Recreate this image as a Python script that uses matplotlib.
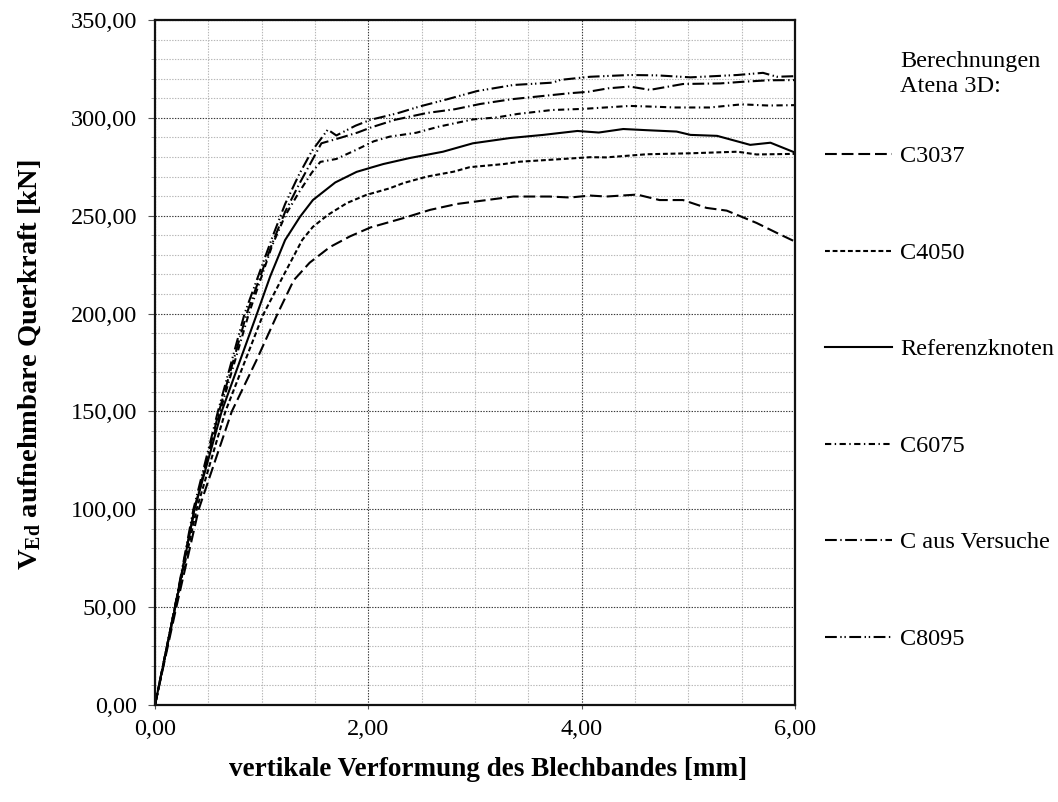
import matplotlib
matplotlib.use("Agg")
import matplotlib.pyplot as plt
from matplotlib.lines import Line2D
from matplotlib.ticker import FixedLocator, MultipleLocator, FuncFormatter

plt.rcParams["font.family"] = ["Liberation Serif", "DejaVu Serif"]
plt.rcParams["mathtext.fontset"] = "custom"
plt.rcParams["mathtext.rm"] = "Liberation Serif"
plt.rcParams["mathtext.bf"] = "Liberation Serif:bold"
plt.rcParams["lines.scale_dashes"] = False

# Load-deflection curves (deflection in mm, shear force in kN)
x_c3037 = [0, 0.20, 0.41, 0.72, 0.95, 1.15, 1.30, 1.45, 1.64, 1.83, 2.02, 2.33, 2.58, 2.83, 3.11,
           3.36, 3.70, 3.89, 4.08, 4.23, 4.52, 4.73, 4.95, 5.17, 5.36, 5.64, 5.83, 6.00]
y_c3037 = [0, 50, 100, 150, 176, 200, 217, 226, 234, 239.5, 244, 248.8, 253, 256, 258,
           259.8, 259.8, 259.3, 260.3, 259.8, 260.8, 258, 258, 254, 252.6, 246.3, 241.2, 236.8]

x_c4050 = [0, 0.19, 0.39, 0.66, 1.01, 1.20, 1.38, 1.48, 1.62, 1.80, 1.98, 2.20, 2.33, 2.55, 2.80,
           2.95, 3.27, 3.42, 3.77, 4.08, 4.23, 4.61, 5.02, 5.46, 5.64, 6.00]
y_c4050 = [0, 50, 100, 150, 199, 219, 237.6, 244.3, 250.4, 256.5, 260.6, 264, 266.7, 270, 272.5,
           274.8, 276.4, 277.6, 278.8, 279.9, 279.8, 281.4, 281.9, 282.7, 281.3, 281.6]

x_ref = [0, 0.19, 0.37, 0.625, 0.95, 1.08, 1.22, 1.36, 1.48, 1.69, 1.89, 2.02, 2.14, 2.39, 2.70,
         2.98, 3.33, 3.64, 3.96, 4.16, 4.39, 4.61, 4.89, 5.02, 5.27, 5.58, 5.77, 5.98, 6.00]
y_ref = [0, 50, 100, 150, 199, 219, 237.6, 249.5, 258, 267, 272.4, 274.5, 276.4, 279.5, 282.7,
         287, 289.7, 291.3, 293.3, 292.5, 294.3, 293.7, 293, 291.3, 290.8, 286.2, 287.3, 282.7, 282.3]

x_c6075 = [0, 0.19, 0.37, 0.61, 0.88, 1.10, 1.22, 1.35, 1.47, 1.55, 1.70, 1.88, 2.05, 2.20, 2.45,
           2.66, 2.98, 3.20, 3.40, 3.72, 4.02, 4.45, 4.63, 4.88, 5.20, 5.50, 5.75, 6.00]
y_c6075 = [0, 51, 100, 150, 200, 235, 250, 262, 272, 277.5, 279, 283.5, 288, 290.4, 292.4,
           295.5, 299.2, 300.2, 302, 304, 304.6, 306.1, 305.8, 305.3, 305.3, 306.9, 306.3, 306.5]

x_cvers = [0, 0.19, 0.37, 0.60, 0.86, 1.10, 1.22, 1.35, 1.47, 1.56, 1.75, 1.90, 2.02, 2.25, 2.55,
           2.81, 3.05, 3.34, 3.64, 3.89, 4.06, 4.25, 4.45, 4.64, 4.95, 5.30, 5.50, 5.75, 6.00]
y_cvers = [0, 51, 100, 150, 200, 236, 252, 266, 278, 287, 290, 292.5, 295, 299, 302.5,
           304.4, 307.1, 309.5, 311.2, 312.6, 313.3, 315.1, 316, 314.3, 317.3, 317.6, 318.4, 319.2, 319.3]

x_c8095 = [0, 0.19, 0.36, 0.59, 0.84, 1.10, 1.22, 1.35, 1.47, 1.62, 1.70, 1.88, 2.02, 2.27, 2.48,
           2.74, 3.02, 3.36, 3.73, 3.80, 4.08, 4.45, 4.71, 5.02, 5.46, 5.70, 5.83, 6.00]
y_c8095 = [0, 51, 100, 150, 200, 239, 256, 271, 283, 294, 291, 296, 299, 302.3, 305.8,
           309.5, 313.7, 316.8, 318, 319.4, 321, 321.9, 321.7, 320.7, 321.9, 323, 321, 321.3]

labels = ["C3037", "C4050", "Referenzknoten", "C6075", "C aus Versuche", "C8095"]
series_x = [x_c3037, x_c4050, x_ref, x_c6075, x_cvers, x_c8095]
series_y = [y_c3037, y_c4050, y_ref, y_c6075, y_cvers, y_c8095]
styles = [
    (0, (8.5, 3.5)),
    (0, (3.5, 2.0)),
    "-",
    (0, (4.5, 2.5, 1.0, 2.5)),
    (0, (8.5, 2.5, 1.0, 2.5)),
    (0, (8.5, 2.5, 1.0, 2.0, 1.0, 2.5)),
]

W, H = 1058, 802
fig = plt.figure(figsize=(W / 100, H / 100), dpi=100)
ax = fig.add_axes([155 / W, 1 - 705 / H, 640 / W, 685 / H])

for xs, ys, ls in zip(series_x, series_y, styles):
    ax.plot(xs, ys, color="black", lw=1.5, linestyle=ls, solid_joinstyle="round")

ax.set_xlim(0, 6)
ax.set_ylim(0, 350)
ax.xaxis.set_major_locator(FixedLocator([0, 2, 4, 6]))
ax.xaxis.set_minor_locator(MultipleLocator(0.5))
ax.yaxis.set_major_locator(MultipleLocator(50))
ax.yaxis.set_minor_locator(MultipleLocator(10))
fmt = FuncFormatter(lambda v, p: f"{v:.2f}".replace(".", ","))
ax.xaxis.set_major_formatter(fmt)
ax.yaxis.set_major_formatter(fmt)

ax.grid(which="major", color="#3a3a3a", linestyle=(0, (1, 1)), lw=0.8)
ax.grid(which="minor", color="#b8b8b8", linestyle=(0, (1, 1)), lw=0.8)
ax.set_axisbelow(True)
for s in ax.spines.values():
    s.set_linewidth(1.6)
    s.set_color("#111111")

ax.tick_params(axis="y", which="major", direction="out", length=5, width=0.8,
               color="#555555", pad=8, labelsize=17.5)
ax.tick_params(axis="y", which="minor", direction="out", length=3, width=0.6, color="#999999")
ax.tick_params(axis="x", which="major", direction="out", length=3, width=0.8,
               color="#555555", pad=7, labelsize=17.5)
ax.tick_params(axis="x", which="minor", length=0)

fig.text(488 / W, 1 - 770 / H, "vertikale Verformung des Blechbandes [mm]",
         ha="center", va="center", fontsize=19.5, fontweight="bold")
fig.text(30 / W, 1 - 365 / H, r"$\mathbf{V_{Ed}}$ aufnehmbare Querkraft [kN]",
         ha="center", va="center", rotation=90, fontsize=20.5, fontweight="bold")

# legend block on the right
fig.text(900 / W, 1 - 67 / H, "Berechnungen", ha="left", va="baseline", fontsize=17.5)
fig.text(900 / W, 1 - 92 / H, "Atena 3D:", ha="left", va="baseline", fontsize=17.5)
entry_y = [154, 251, 347, 444, 540, 637]
for lab, ls, yp in zip(labels, styles, entry_y):
    fy = 1 - yp / H
    fig.add_artist(Line2D([825 / W, 892 / W], [fy, fy], transform=fig.transFigure,
                          color="black", lw=1.5, linestyle=ls))
    fig.text(900 / W, fy, lab, ha="left", va="center_baseline", fontsize=17.5)

fig.savefig("out.png", dpi=100)
